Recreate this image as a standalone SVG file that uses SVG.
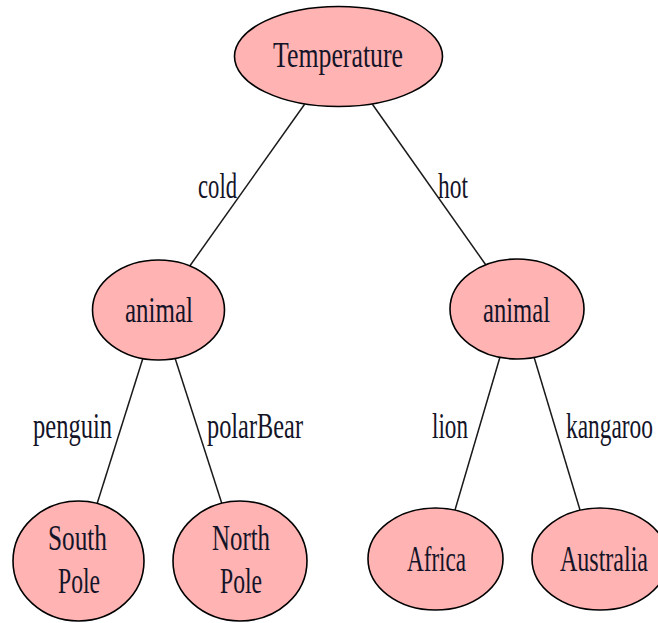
<svg xmlns="http://www.w3.org/2000/svg" width="658" height="623" viewBox="0 0 658 623">
<style>
.n{fill:#ffb3b3;stroke:#000;stroke-width:1.6}
.e{stroke:#1a1a1a;stroke-width:1.5;fill:none}
text{font-family:"Liberation Serif","DejaVu Serif",serif;font-size:25px;fill:#141428;text-anchor:middle}
.l{text-anchor:start}
</style>
<rect width="658" height="623" fill="#fff"/>
<g id="edges">
<line class="e" x1="304.6" y1="104.3" x2="189.8" y2="266"/>
<line class="e" x1="372.4" y1="104.3" x2="486.6" y2="266"/>
<line class="e" x1="143" y1="358" x2="97" y2="504"/>
<line class="e" x1="175" y1="358" x2="222" y2="504"/>
<line class="e" x1="500" y1="357" x2="455" y2="510"/>
<line class="e" x1="534" y1="357" x2="580" y2="510"/>
<text class="l" transform="translate(198,198) scale(1,1.45)" textLength="39" lengthAdjust="spacingAndGlyphs">cold</text>
<text class="l" transform="translate(438,198) scale(1,1.45)" textLength="30" lengthAdjust="spacingAndGlyphs">hot</text>
<text class="l" transform="translate(33,438) scale(1,1.45)" textLength="79" lengthAdjust="spacingAndGlyphs">penguin</text>
<text class="l" transform="translate(207,438) scale(1,1.45)" textLength="96" lengthAdjust="spacingAndGlyphs">polarBear</text>
<text class="l" transform="translate(432,438) scale(1,1.45)" textLength="36" lengthAdjust="spacingAndGlyphs">lion</text>
<text class="l" transform="translate(566,438) scale(1,1.45)" textLength="87" lengthAdjust="spacingAndGlyphs">kangaroo</text>
</g>
<g id="temperature">
<ellipse class="n" cx="338.5" cy="56.5" rx="104" ry="50"/>
<text transform="translate(338,67) scale(1,1.45)" textLength="130" lengthAdjust="spacingAndGlyphs">Temperature</text>
</g>
<g id="animal1">
<ellipse class="n" cx="158.5" cy="310" rx="66" ry="50"/>
<text transform="translate(159,322) scale(1,1.45)" textLength="68" lengthAdjust="spacingAndGlyphs">animal</text>
</g>
<g id="animal2">
<ellipse class="n" cx="517" cy="309" rx="67" ry="50"/>
<text transform="translate(516.5,322) scale(1,1.45)" textLength="67" lengthAdjust="spacingAndGlyphs">animal</text>
</g>
<g id="southpole">
<ellipse class="n" cx="78.5" cy="561" rx="65.5" ry="60"/>
<text transform="translate(77.5,550) scale(1,1.45)" textLength="59" lengthAdjust="spacingAndGlyphs">South</text>
<text transform="translate(79,593) scale(1,1.45)" textLength="42" lengthAdjust="spacingAndGlyphs">Pole</text>
</g>
<g id="northpole">
<ellipse class="n" cx="240" cy="561" rx="67" ry="60"/>
<text transform="translate(241,550) scale(1,1.45)" textLength="58" lengthAdjust="spacingAndGlyphs">North</text>
<text transform="translate(241,593) scale(1,1.45)" textLength="42" lengthAdjust="spacingAndGlyphs">Pole</text>
</g>
<g id="africa">
<ellipse class="n" cx="435.5" cy="559" rx="67.5" ry="51"/>
<text transform="translate(436.5,571) scale(1,1.45)" textLength="59" lengthAdjust="spacingAndGlyphs">Africa</text>
</g>
<g id="australia">
<ellipse class="n" cx="600" cy="559" rx="68" ry="51"/>
<text transform="translate(604,571) scale(1,1.45)" textLength="88" lengthAdjust="spacingAndGlyphs">Australia</text>
</g>
</svg>
